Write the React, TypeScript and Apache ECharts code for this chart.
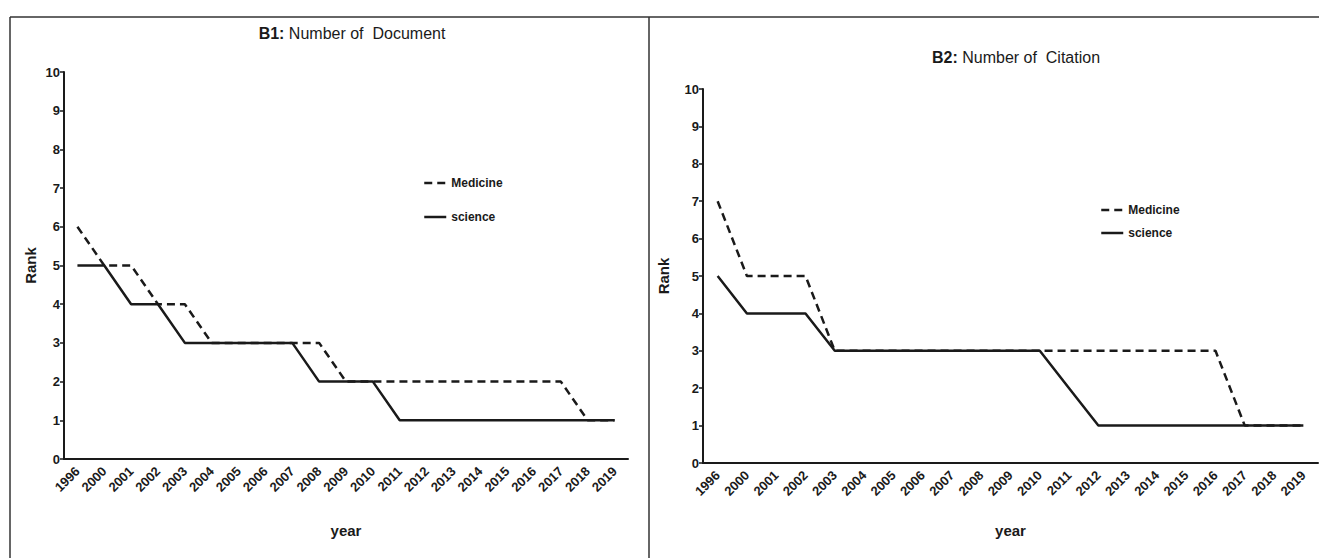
import React, { useEffect, useRef } from "react";
import * as echarts from "echarts";

const years = ["1996","2000","2001","2002","2003","2004","2005","2006","2007","2008","2009","2010","2011","2012","2013","2014","2015","2016","2017","2018","2019"];
const rankTicks = [0, 10];
const b1Medicine = [6,5,5,4,4,3,3,3,3,3,2,2,2,2,2,2,2,2,2,1,1];
const b1Science = [5,5,4,4,3,3,3,3,3,2,2,2,1,1,1,1,1,1,1,1,1];
const b2Medicine = [7,5,5,5,3,3,3,3,3,3,3,3,3,3,3,3,3,3,1,1,1];
const b2Science = [5,4,4,4,3,3,3,3,3,3,3,3,2,1,1,1,1,1,1,1,1];
const seriesNames = ["Medicine", "science"];
const titles = ["B1:", "B2:"];
const subtitles = [" Number of  Document", " Number of  Citation"];

const FONT = "'Liberation Sans Narrow', 'Liberation Sans', Arial, sans-serif";
const INK = "#1a1a1a";

function xAxisFor(gridIndex: number, nameGap: number) {
  return {
    type: "category",
    gridIndex,
    data: years,
    boundaryGap: true,
    name: "year",
    nameLocation: "middle",
    nameGap,
    nameTextStyle: { fontFamily: FONT, fontSize: 15, fontWeight: "bold", color: INK },
    axisLine: { lineStyle: { color: INK, width: 2 } },
    axisTick: { alignWithLabel: true, length: 5, lineStyle: { color: INK, width: 1.5 } },
    axisLabel: { rotate: 45, fontFamily: FONT, fontSize: 13, fontWeight: "bold", color: INK, margin: 10, interval: 0 },
    splitLine: { show: false },
  };
}

function yAxisFor(gridIndex: number, nameGap: number) {
  return {
    type: "value",
    gridIndex,
    min: rankTicks[0],
    max: rankTicks[1],
    interval: 1,
    name: "Rank",
    nameLocation: "middle",
    nameGap,
    nameTextStyle: { fontFamily: FONT, fontSize: 15, fontWeight: "bold", color: INK },
    axisLine: { show: true, lineStyle: { color: INK, width: 2 } },
    axisTick: { show: true, length: 4, lineStyle: { color: INK, width: 1.5 } },
    axisLabel: { fontFamily: FONT, fontSize: 13, fontWeight: "bold", color: INK, margin: 4 },
    splitLine: { show: false },
  };
}

function lineSeries(name: string, data: number[], idx: number, dashed: boolean) {
  return {
    type: "line",
    name,
    xAxisIndex: idx,
    yAxisIndex: idx,
    data,
    symbol: "none",
    lineStyle: { color: INK, width: 2.5, type: dashed ? [8, 5] : "solid" },
    itemStyle: { color: INK },
    z: dashed ? 2 : 3,
  };
}

function legendFor(left: number, top: number, itemGap: number) {
  return {
    data: seriesNames,
    orient: "vertical",
    left,
    top,
    itemGap,
    itemWidth: 22,
    itemHeight: 10,
    itemStyle: { color: "transparent", borderWidth: 0, opacity: 0 },
    lineStyle: { color: INK, width: 2.5, inactiveColor: INK },
    textStyle: { fontFamily: FONT, fontSize: 12, fontWeight: "bold", color: INK },
    selectedMode: false,
  };
}

export default function App() {
  const ref = useRef<HTMLDivElement>(null);
  useEffect(() => {
    if (!ref.current) return;
    const chart = echarts.init(ref.current, undefined, { renderer: "svg" });
    const titleRich = {
      b: { fontFamily: FONT, fontSize: 16, fontWeight: "bold", color: INK },
      n: { fontFamily: FONT, fontSize: 16, fontWeight: "normal", color: INK },
    };
    chart.setOption({
      animation: false,
      backgroundColor: "#ffffff",
      title: [
        { text: `{b|${titles[0]}}{n|${subtitles[0]}}`, left: 347, top: 20, textAlign: "center", textStyle: { rich: titleRich } },
        { text: `{b|${titles[1]}}{n|${subtitles[1]}}`, left: 1011, top: 44, textAlign: "center", textStyle: { rich: titleRich } },
      ],
      legend: [legendFor(418, 172, 22), legendFor(1095, 199, 11)],
      grid: [
        { left: 64, top: 72, width: 564, height: 387 },
        { left: 703, top: 89, width: 615, height: 374 },
      ],
      xAxis: [xAxisFor(0, 64), xAxisFor(1, 60)],
      yAxis: [yAxisFor(0, 26), yAxisFor(1, 32)],
      series: [
        lineSeries(seriesNames[0], b1Medicine, 0, true),
        lineSeries(seriesNames[1], b1Science, 0, false),
        lineSeries(seriesNames[0], b2Medicine, 1, true),
        lineSeries(seriesNames[1], b2Science, 1, false),
      ],
      graphic: [
        { type: "line", shape: { x1: 10, y1: 17, x2: 1330, y2: 17 }, style: { stroke: "#333", lineWidth: 1.5 } },
        { type: "line", shape: { x1: 10, y1: 17, x2: 10, y2: 570 }, style: { stroke: "#333", lineWidth: 1.5 } },
        { type: "line", shape: { x1: 649, y1: 17, x2: 649, y2: 570 }, style: { stroke: "#333", lineWidth: 1.5 } },
      ],
    });
    return () => chart.dispose();
  }, []);
  return (
    <div
      ref={ref}
      style={{ position: "fixed", left: 0, top: 0, width: 1319, height: 558, background: "#fff" }}
    />
  );
}
